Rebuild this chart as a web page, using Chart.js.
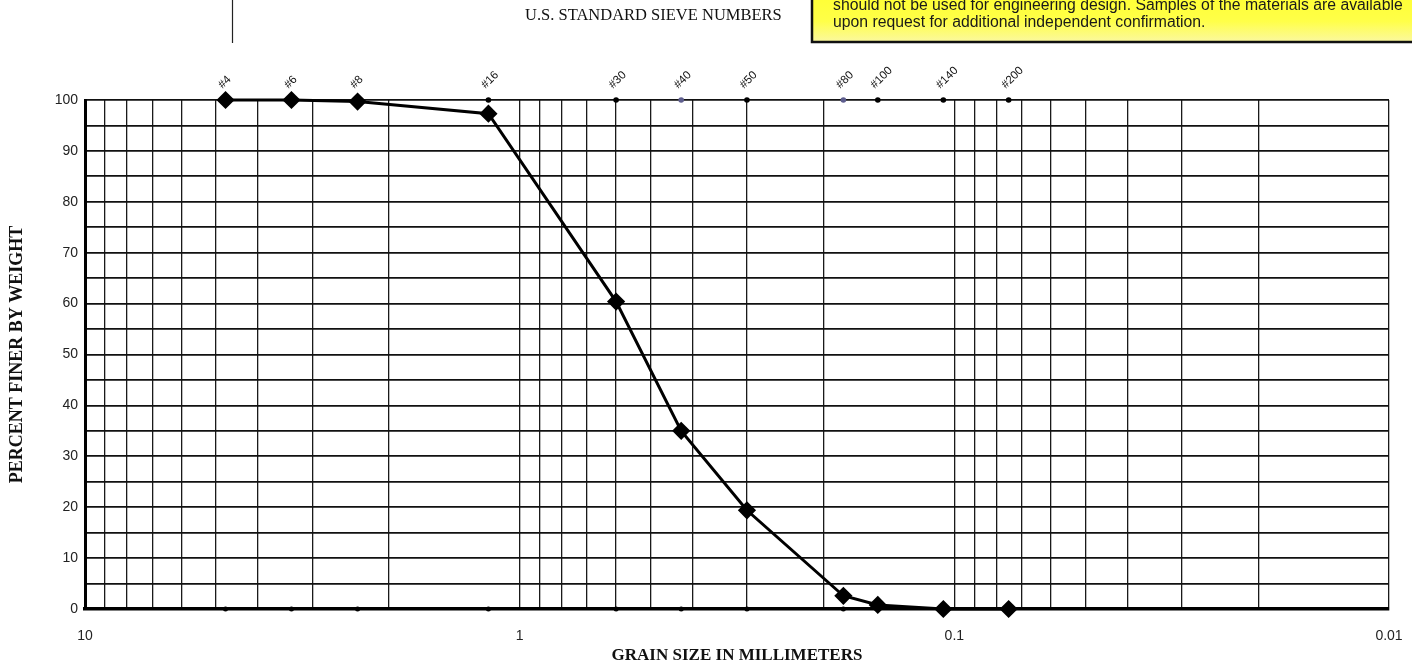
<!DOCTYPE html>
<html>
<head>
<meta charset="utf-8">
<script src="https://cdn.jsdelivr.net/npm/chart.js@4.4.1/dist/chart.umd.min.js"></script>
<style>
  html, body { margin: 0; padding: 0; background: #ffffff; }
  #wrap { width: 1412px; height: 668px; position: relative; }
</style>
</head>
<body>
<div id="wrap"><canvas id="c" width="1412" height="668"></canvas></div>
<script>
// ---- data ----
const sieveNames   = ['#4', '#6', '#8', '#16', '#30', '#40', '#50', '#80', '#100', '#140', '#200'];
const sieveSizesMm = [4.75, 3.35, 2.36, 1.18, 0.6, 0.425, 0.3, 0.18, 0.15, 0.106, 0.075];
const percentFiner = [100, 100, 99.7, 97.3, 60.4, 35, 19.4, 2.6, 0.8, 0, 0];

// top marker row (100) and bottom marker row (0) at each sieve
const sieveTopRow    = [100, 100, 100, 100, 100, 100, 100, 100, 100, 100, 100];
const sieveBottomRow = [0, 0, 0, 0, 0, 0, 0, 0, 0, 0, 0];

// log grid of the grain size axis and its labelled decades
const xGridValues = [0.01, 0.02, 0.03, 0.04, 0.05, 0.06, 0.07, 0.08, 0.09,
                     0.1, 0.2, 0.3, 0.4, 0.5, 0.6, 0.7, 0.8, 0.9,
                     1, 2, 3, 4, 5, 6, 7, 8, 9, 10];
const xTickLabels = ['0.01', '0.1', '1', '10'];
const yTickLabels = ['0', '10', '20', '30', '40', '50', '60', '70', '80', '90', '100'];

const headerText = 'U.S. STANDARD SIEVE NUMBERS';
const noteLines = [
  'should not be used for engineering design. Samples of the materials are available',
  'upon request for additional independent confirmation.'
];

const SANS = '"Liberation Sans", Arial, sans-serif';
const SERIF = '"Liberation Serif", "Times New Roman", serif';

const topDotColors = ['#000', '#000', '#000', '#000', '#000', '#5e5e8e', '#000', '#5e5e8e', '#000', '#000', '#000'];

const headerPlugin = {
  id: 'header',
  afterDraw(chart) {
    const ctx = chart.ctx;
    const xs = chart.scales.x;
    const ys = chart.scales.y;
    ctx.save();
    // small vertical stroke at top left
    ctx.strokeStyle = '#222';
    ctx.lineWidth = 1.2;
    ctx.beginPath(); ctx.moveTo(232.5, 0); ctx.lineTo(232.5, 43); ctx.stroke();
    // header text
    ctx.fillStyle = '#111';
    ctx.font = '16.5px ' + SERIF;
    ctx.textAlign = 'left';
    ctx.textBaseline = 'alphabetic';
    ctx.fillText(headerText, 525, 20);
    // yellow note box
    const bx = 812, by = -10, bw = 1412 - 812 + 5, bh = 42 + 10;
    const g = ctx.createLinearGradient(0, by, 0, by + bh);
    g.addColorStop(0, '#ffff30');
    g.addColorStop(0.6, '#ffff48');
    g.addColorStop(1, '#fbf8a0');
    ctx.fillStyle = g;
    ctx.fillRect(bx, by, bw, bh);
    ctx.strokeStyle = '#111';
    ctx.lineWidth = 2.5;
    ctx.beginPath();
    ctx.moveTo(bx, by); ctx.lineTo(bx, by + bh); ctx.lineTo(1412, by + bh);
    ctx.stroke();
    // note text fitted to its width in the reference
    ctx.font = '14px ' + SANS;
    const w = ctx.measureText(noteLines[0]).width;
    const fs = 14 * 570 / w;
    ctx.font = fs.toFixed(2) + 'px ' + SANS;
    ctx.fillStyle = '#1a1a1a';
    ctx.fillText(noteLines[0], 833, 9.5);
    ctx.fillText(noteLines[1], 833, 26.5);
    // rotated sieve number labels above the top markers (positioned by the x scale)
    ctx.font = '11.5px ' + SANS;
    ctx.fillStyle = '#111';
    const yTop = ys.getPixelForValue(100);
    sieveSizesMm.forEach((s, i) => {
      const px = xs.getPixelForValue(s);
      ctx.save();
      ctx.translate(px - 3, yTop - 11);
      ctx.rotate(-Math.PI / 4);
      ctx.textAlign = 'left';
      ctx.textBaseline = 'alphabetic';
      ctx.fillText(sieveNames[i], 0, 0);
      ctx.restore();
    });
    ctx.restore();
  }
};

const ctx = document.getElementById('c').getContext('2d');
new Chart(ctx, {
  type: 'line',
  data: {
    datasets: [
      {
        label: 'Percent finer',
        data: sieveSizesMm.map((x, i) => ({ x: x, y: percentFiner[i] })),
        borderColor: '#000',
        backgroundColor: '#000',
        borderWidth: 3,
        pointStyle: 'rectRot',
        pointRadius: 7,
        pointHoverRadius: 7,
        tension: 0,
        clip: false
      },
      {
        label: 'Sieve (top)',
        data: sieveSizesMm.map((x, i) => ({ x: x, y: sieveTopRow[i] })),
        showLine: false,
        pointStyle: 'circle',
        pointRadius: 2.8,
        pointBackgroundColor: topDotColors,
        pointBorderColor: topDotColors,
        pointBorderWidth: 0,
        clip: false
      },
      {
        label: 'Sieve (bottom)',
        data: sieveSizesMm.map((x, i) => ({ x: x, y: sieveBottomRow[i] })),
        showLine: false,
        pointStyle: 'circle',
        pointRadius: 2.5,
        pointBackgroundColor: '#000',
        pointBorderColor: '#000',
        pointBorderWidth: 0,
        clip: false
      }
    ]
  },
  options: {
    responsive: false,
    animation: false,
    events: [],
    layout: { padding: { left: 0, right: 23, top: 100, bottom: 0 } },
    plugins: { legend: { display: false }, tooltip: { enabled: false }, title: { display: false } },
    scales: {
      x: {
        type: 'logarithmic',
        position: 'bottom',
        reverse: true,
        min: 0.01,
        max: 10,
        afterBuildTicks(scale) { scale.ticks = xGridValues.map(v => ({ value: v })); },
        afterFit(scale) { scale.height = 59; },
        ticks: {
          autoSkip: false,
          maxRotation: 0,
          minRotation: 0,
          padding: 19,
          color: '#222',
          font: { family: SANS, size: 14 },
          callback(v) {
            const s = String(v);
            return xTickLabels.includes(s) ? s : '';
          }
        },
        grid: { color: '#1a1a1a', lineWidth: 1.3, drawTicks: false },
        border: { color: '#000', width: 3.5 },
        title: {
          display: true,
          text: 'GRAIN SIZE IN MILLIMETERS',
          color: '#111',
          font: { family: SERIF, size: 17, weight: 'bold' },
          padding: { top: 0, bottom: 2 }
        }
      },
      y: {
        type: 'linear',
        min: 0,
        max: 100,
        afterFit(scale) { scale.width = 85; },
        ticks: {
          stepSize: 5,
          padding: 7,
          color: '#222',
          font: { family: SANS, size: 14 },
          callback(v) {
            const s = String(v);
            return yTickLabels.includes(s) ? s : '';
          }
        },
        grid: { color: '#111', lineWidth: 1.8, drawTicks: false },
        border: { color: '#000', width: 3 },
        title: {
          display: true,
          text: 'PERCENT FINER BY WEIGHT',
          color: '#111',
          font: { family: SERIF, size: 18, weight: 'bold' },
          padding: { top: 7, bottom: 0 }
        }
      }
    }
  },
  plugins: [headerPlugin]
});
</script>
</body>
</html>
